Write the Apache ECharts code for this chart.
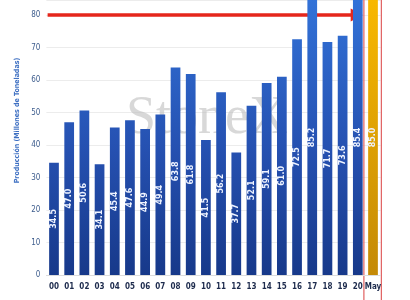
<!DOCTYPE html>
<html>
<head>
<meta charset="utf-8">
<script src="https://cdn.jsdelivr.net/npm/echarts@6/dist/echarts.min.js"></script>
<style>html,body{margin:0;padding:0;background:#fff;}#c{width:410px;height:300px;}</style>
</head>
<body>
<div id="c"></div>
<script>
var categories = ['00','01','02','03','04','05','06','07','08','09','10','11','12','13','14','15','16','17','18','19','20','May'];
var values = [34.5,47.0,50.6,34.1,45.4,47.6,44.9,49.4,63.8,61.8,41.5,56.2,37.7,52.1,59.1,61.0,72.5,85.2,71.7,73.6,85.4,85.0];
var yTicks = [0,10,20,30,40,50,60,70,80];
var highlightIndex = 21;
var targetValue = 80;
var yVisibleMax = 84.6;

var chart = echarts.init(document.getElementById('c'), null, {renderer: 'canvas'});
var blueGrad = new echarts.graphic.LinearGradient(0, 0, 0, 275, [
  {offset: 0, color: '#3272d8'}, {offset: 0.55, color: '#2550b0'}, {offset: 1, color: '#17398a'}
], true);
var goldGrad = new echarts.graphic.LinearGradient(0, 0, 0, 275, [
  {offset: 0, color: '#f8b800'}, {offset: 1, color: '#c48a06'}
], true);

var data = values.map(function (v, i) {
  return {value: v, itemStyle: {color: i === highlightIndex ? goldGrad : blueGrad}};
});

chart.setOption({
  animation: false,
  backgroundColor: '#ffffff',
  title: {
    text: 'StoneX', left: 126, top: 92, z: 0, zlevel: 0, padding: 0,
    textStyle: {fontFamily: 'Liberation Serif', fontSize: 54, fontWeight: 'normal', color: 'rgba(190,190,190,0.6)'}
  },
  grid: {left: 46.4, right: 29.4, top: 0, bottom: 25, containLabel: false},
  xAxis: {
    type: 'category', data: categories,
    axisLine: {show: true, lineStyle: {color: '#dcdcdc'}},
    axisTick: {show: false},
    axisLabel: {interval: 0, color: '#1d2b4d', fontSize: 8, fontWeight: 'bold', fontFamily: 'DejaVu Sans Condensed, sans-serif', margin: 8}
  },
  yAxis: {
    type: 'value', min: 0, max: yVisibleMax, interval: 10,
    name: 'Producción (Millones de Toneladas)',
    nameLocation: 'middle', nameGap: 23, nameRotate: 90,
    nameTextStyle: {color: '#3d6fc2', fontSize: 7, fontWeight: 'bold', fontFamily: 'DejaVu Sans Condensed, sans-serif', padding: [0, 0, 0, 34]},
    axisLine: {show: false}, axisTick: {show: false},
    axisLabel: {color: '#3f5e8e', fontSize: 8, fontFamily: 'DejaVu Sans Condensed, sans-serif', margin: 6,
      showMaxLabel: false,
      formatter: function (v) { return yTicks.indexOf(v) >= 0 ? String(v) : ''; }},
    splitLine: {lineStyle: {color: '#ececec', width: 1}}
  },
  series: [{
    type: 'bar', data: data, barWidth: '64%', zlevel: 1, z: 2, clip: true,
    label: {
      show: true, position: 'inside', rotate: 90, color: '#eef3ff', fontSize: 8, fontWeight: 'bold',
      fontFamily: 'DejaVu Sans, sans-serif',
      formatter: function (p) { return p.value.toFixed(1); }
    }
  }]
});

function drawAnnotations() {
  var p0 = chart.convertToPixel({seriesIndex: 0}, [0, targetValue]);
  var p20 = chart.convertToPixel({seriesIndex: 0}, [highlightIndex - 1, targetValue]);
  var pM = chart.convertToPixel({seriesIndex: 0}, [highlightIndex, targetValue]);
  var band = pM[0] - p20[0];
  var xStart = p0[0] - band * 0.42;
  var xEnd = pM[0] - band * 0.68;
  var y = p0[1];
  var rl = pM[0] - band * 0.6, rr = pM[0] + band * 0.55;
  chart.setOption({
    graphic: {
      zlevel: 2, z: 10,
      elements: [{
        type: 'line', shape: {x1: xStart, y1: y, x2: xEnd - 9, y2: y},
        style: {stroke: '#e5261b', lineWidth: 3.5}
      }, {
        type: 'polygon', shape: {points: [[xEnd - 12, y - 6.5], [xEnd, y], [xEnd - 12, y + 6.5]]},
        style: {fill: '#e5261b'}
      }, {
        type: 'line', shape: {x1: rl, y1: 0, x2: rl, y2: 300},
        style: {stroke: '#e06060', lineWidth: 1.2}
      }, {
        type: 'line', shape: {x1: rr, y1: 0, x2: rr, y2: 300},
        style: {stroke: '#e06060', lineWidth: 1.2}
      }]
    }
  });
}
drawAnnotations();
</script>
</body>
</html>
